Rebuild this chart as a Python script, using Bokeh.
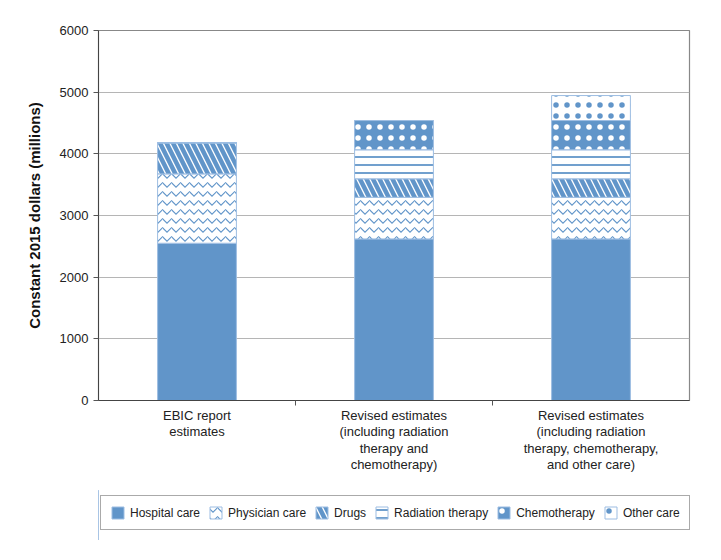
from bokeh.plotting import figure
from bokeh.models import FixedTicker, Legend, ColumnDataSource, Range1d
from bokeh.layouts import column
from bokeh.embed import file_html
from bokeh.resources import INLINE

# ---- data ----
categories = [
    "EBIC report\nestimates",
    "Revised estimates\n(including radiation\ntherapy and\nchemotherapy)",
    "Revised estimates\n(including radiation\ntherapy, chemotherapy,\nand other care)",
]
series_names = ["Hospital care", "Physician care", "Drugs", "Radiation therapy", "Chemotherapy", "Other care"]
hospital = [2550, 2620, 2620]
physician = [1125, 675, 675]
drugs = [505, 300, 300]
radiation = [0, 470, 470]
chemo = [0, 475, 475]
other = [0, 0, 405]
y_ticks = [0, 1000, 2000, 3000, 4000, 5000, 6000]

BLUE = "#6195c9"
EDGE = "#9dbde2"
FONT = "Liberation Sans"

xpos = [i + 0.5 for i in range(len(categories))]
src = ColumnDataSource(dict(
    x=xpos, hospital=hospital, physician=physician, drugs=drugs,
    radiation=radiation, chemo=chemo, other=other,
))
keys = ["hospital", "physician", "drugs", "radiation", "chemo", "other"]

fills = [BLUE, "white", "white", "white", BLUE, "white"]
hatches = [" ", "horizontal_wave", "left_diagonal_line", "horizontal_line", "dot", "dot"]
hcolors = [BLUE, BLUE, BLUE, BLUE, "white", BLUE]
hscales = [8, 9, 13, 8, 11, 11]
hweights = [1, 1.1, 4.5, 1.8, 0.4, 0.4]

p = figure(frame_width=591, frame_height=370, output_backend="svg", toolbar_location=None,
           x_range=Range1d(0, len(categories)), y_range=Range1d(0, 6000),
           min_border_left=98, min_border_right=24, min_border_top=30, min_border_bottom=90)

p.vbar_stack(keys, x="x", width=0.4, source=src,
             fill_color=fills, line_color=EDGE, line_width=1,
             hatch_pattern=hatches, hatch_color=hcolors,
             hatch_scale=hscales, hatch_weight=hweights)

# axes
p.xaxis.ticker = FixedTicker(ticks=xpos, minor_ticks=[1, 2])
p.xaxis.major_label_overrides = {x: c for x, c in zip(xpos, categories)}
p.xaxis.major_tick_line_color = None
p.xaxis.major_tick_in = 0
p.xaxis.major_tick_out = 0
p.xaxis.minor_tick_in = 0
p.xaxis.minor_tick_out = 5
p.xaxis.minor_tick_line_color = "#555"
p.xaxis.axis_line_color = "#444"
p.xaxis.major_label_text_font = FONT
p.xaxis.major_label_text_font_size = "13px"
p.xaxis.major_label_text_color = "#222"
p.xaxis.major_label_text_line_height = 1.1
p.xaxis.major_label_standoff = 2

p.yaxis.ticker = FixedTicker(ticks=y_ticks)
p.yaxis.minor_tick_line_color = None
p.yaxis.major_tick_in = 0
p.yaxis.major_tick_out = 5
p.yaxis.major_tick_line_color = "#555"
p.yaxis.axis_line_color = "#444"
p.yaxis.major_label_text_font = FONT
p.yaxis.major_label_text_font_size = "13px"
p.yaxis.major_label_text_color = "#222"
p.yaxis.axis_label = "Constant 2015 dollars (millions)"
p.yaxis.axis_label_text_font = FONT
p.yaxis.axis_label_text_font_size = "15px"
p.yaxis.axis_label_text_font_style = "bold"
p.yaxis.axis_label_text_color = "#111"
p.yaxis.axis_label_standoff = 14

p.xgrid.grid_line_color = None
p.ygrid.grid_line_color = "#b5b5b5"
p.ygrid.grid_line_width = 1
p.outline_line_color = "#888"
p.outline_line_width = 1.2

# legend strip (separate figure, same styles; placeholder bars lie outside its range)
lg = figure(frame_width=605, frame_height=50, output_backend="svg", toolbar_location=None,
            x_axis_location=None, y_axis_location=None,
            x_range=Range1d(0, 1), y_range=Range1d(0, 1),
            min_border_left=98, min_border_right=0,
            min_border_top=0, min_border_bottom=0)
lg.grid.visible = False
lg.outline_line_color = None
items = []
for name, f, h, hc, hs, hw in zip(series_names, fills, hatches, hcolors, hscales, hweights):
    r = lg.vbar(x=[-5], top=[1], width=0.4, fill_color=f, line_color=EDGE, line_width=1,
                hatch_pattern=h, hatch_color=hc, hatch_scale=hs, hatch_weight=hw)
    items.append((name, [r]))
legend = Legend(items=items, orientation="horizontal", location=(2, 10),
                label_text_font=FONT, label_text_font_size="12px", label_text_color="#222",
                glyph_width=15, glyph_height=15, label_standoff=5, spacing=8,
                padding=9, margin=0,
                border_line_color="#555", border_line_width=1.2)
lg.add_layout(legend, "center")

open("out.html", "w").write(file_html(column(p, lg, spacing=0), INLINE))
